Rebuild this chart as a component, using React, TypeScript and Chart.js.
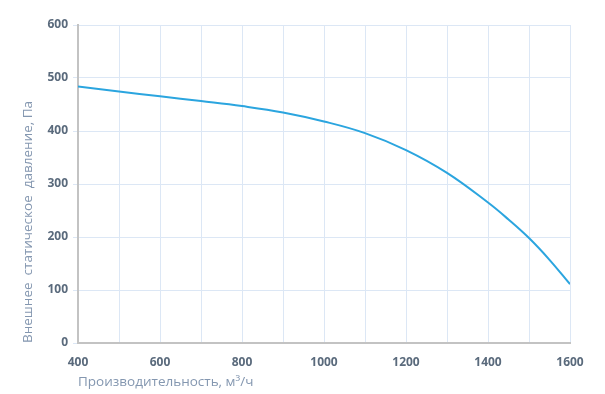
import React, { useEffect, useRef } from "react";
import { Chart, registerables } from "chart.js";

Chart.register(...registerables);

const flowValues = [400, 500, 600, 700, 800, 900, 1000, 1100, 1200, 1300, 1400, 1450, 1500, 1550, 1600];
const pressureValues = [484, 474.5, 465.5, 456.5, 447, 435, 418, 396, 364, 321, 265, 233, 198, 157, 111];
const xTitle = "Производительность, м³/ч";
const yTitle = "Внешнее  статическое  давление, Па";

export default function App() {
  const ref = useRef<HTMLCanvasElement>(null);
  useEffect(() => {
    document.body.style.margin = "0";
    const ctx = ref.current!;
    const tickFont = { family: "'Open Sans', sans-serif", size: 12, weight: "bold" as const };
    const titleFont = { family: "'Open Sans', sans-serif", size: 13.5 };
    const chart = new Chart(ctx, {
      type: "line",
      data: {
        datasets: [
          {
            data: flowValues.map((x, i) => ({ x, y: pressureValues[i] })),
            borderColor: "#2ba5df",
            borderWidth: 2,
            pointRadius: 0,
            tension: 0.4,
            fill: false,
          },
        ],
      },
      options: {
        responsive: false,
        animation: false,
        layout: { padding: { top: 25, right: 35, left: 0, bottom: 0 } },
        plugins: { legend: { display: false }, tooltip: { enabled: false } },
        scales: {
          x: {
            type: "linear",
            min: 400,
            max: 1600,
            ticks: {
              stepSize: 100,
              font: tickFont,
              color: "#5a6a7c",
              padding: 12,
              maxRotation: 0,
              autoSkip: false,
              callback: (v: any) => (Number(v) % 200 === 0 ? String(v) : ""),
            },
            grid: { color: "#dce7f5", drawTicks: false },
            border: { color: "#c3c3c3", width: 2 },
            title: {
              display: true,
              text: xTitle,
              align: "start",
              color: "#8497b0",
              font: titleFont,
              padding: 4,
            },
            afterFit: (s: any) => {
              s.height = 51;
            },
          },
          y: {
            min: 0,
            max: 600,
            ticks: { stepSize: 100, font: tickFont, color: "#5a6a7c", padding: 5 },
            grid: { color: "#dce7f5", tickLength: 5 },
            border: { color: "#c3c3c3", width: 2 },
            title: {
              display: true,
              text: yTitle,
              align: "start",
              color: "#8497b0",
              font: titleFont,
              padding: 20,
            },
            afterFit: (s: any) => {
              s.width = 78;
            },
          },
        },
      },
    });
    return () => chart.destroy();
  }, []);
  return <canvas ref={ref} width={605} height={394} style={{ display: "block" }} />;
}
